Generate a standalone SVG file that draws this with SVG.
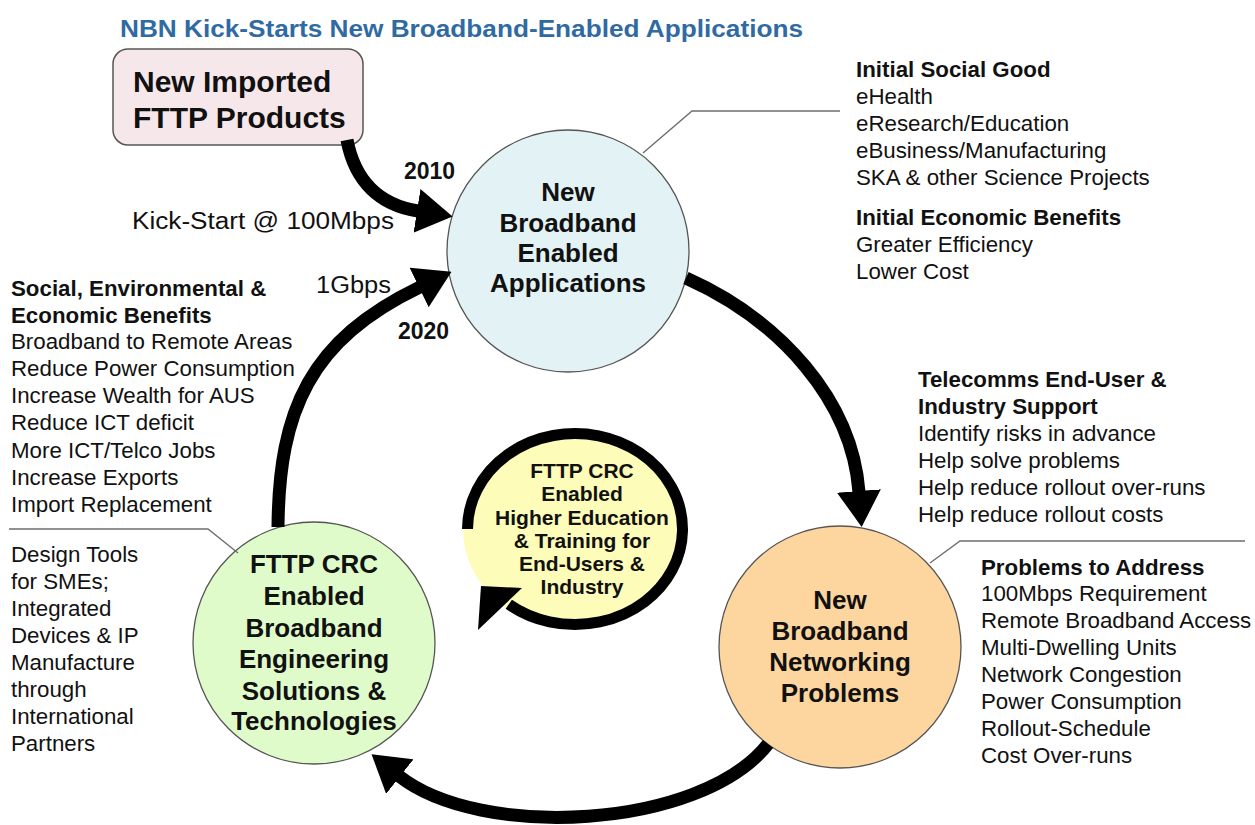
<svg xmlns="http://www.w3.org/2000/svg" width="1255" height="825" viewBox="0 0 1255 825">
<defs>
<style>
text{font-family:"Liberation Sans",Arial,Helvetica,sans-serif;fill:#111}
.title{font-size:23px;font-weight:bold;fill:#2f6aa3}
.boxt{font-size:30px;font-weight:bold}
.ct{font-size:26px;font-weight:bold;text-anchor:middle}
.st{font-size:21px;font-weight:bold;text-anchor:middle}
.lb{font-size:23px}
.yr{font-size:23px;font-weight:bold}
.li{font-size:22.3px}
.lh{font-size:22.3px;font-weight:bold}
.node{stroke:#555;stroke-width:1.3}
.conn{fill:none;stroke:#000;stroke-width:13}
.call{fill:none;stroke:#6e6e6e;stroke-width:1.4}
</style>
<marker id="ah" markerUnits="userSpaceOnUse" markerWidth="36" markerHeight="44" viewBox="0 0 36 44" refX="1" refY="22" orient="auto">
<path d="M0,0 L36,22 L0,44 Z" fill="#000"/>
</marker>
</defs>
<rect width="1255" height="825" fill="#fff"/>
<text class="title" x="120" y="37" textLength="683" lengthAdjust="spacingAndGlyphs">NBN Kick-Starts New Broadband-Enabled Applications</text>

<g id="node-imported">
<rect x="113" y="49" width="250" height="96" rx="15" fill="#f6e8ea" stroke="#555" stroke-width="1.5"/>
<text class="boxt" x="133" y="92">New Imported</text>
<text class="boxt" x="133" y="128">FTTP Products</text>
</g>

<g id="node-applications">
<circle class="node" cx="568" cy="251" r="121" fill="#e3f2f4"/>
<text class="ct" x="568" y="201">New</text>
<text class="ct" x="568" y="232">Broadband</text>
<text class="ct" x="568" y="262">Enabled</text>
<text class="ct" x="568" y="292">Applications</text>
</g>

<g id="node-problems">
<circle class="node" cx="840" cy="647" r="121" fill="#fdd69f"/>
<text class="ct" x="840" y="609">New</text>
<text class="ct" x="840" y="640">Broadband</text>
<text class="ct" x="840" y="671">Networking</text>
<text class="ct" x="840" y="702">Problems</text>
</g>

<g id="node-engineering">
<circle class="node" cx="314" cy="643" r="121" fill="#e0fbca"/>
<text class="ct" x="314" y="573">FTTP CRC</text>
<text class="ct" x="314" y="605">Enabled</text>
<text class="ct" x="314" y="637">Broadband</text>
<text class="ct" x="314" y="668">Engineering</text>
<text class="ct" x="314" y="700">Solutions &amp;</text>
<text class="ct" x="314" y="730">Technologies</text>
</g>

<g id="node-education">
<ellipse cx="575" cy="529" rx="112" ry="100" fill="#fdfcb8"/>
<path d="M467.5,529 A107.5,95.5 0 1 1 508.8,604.3" fill="none" stroke="#000" stroke-width="11"/>
<polygon points="481,586 522,588 478,630" fill="#000"/>
<text class="st" x="582" y="478">FTTP CRC</text>
<text class="st" x="582" y="501">Enabled</text>
<text class="st" x="582" y="525">Higher Education</text>
<text class="st" x="582" y="548">&amp; Training for</text>
<text class="st" x="582" y="571">End-Users &amp;</text>
<text class="st" x="582" y="594">Industry</text>
</g>

<g id="connectors">
<path class="conn" d="M347,140 C355,182 380,205 418,211" marker-end="url(#ah)"/>
<path class="conn" d="M278,527 C279,410 310,340 420,287" marker-end="url(#ah)"/>
<path class="conn" d="M686,278 C780,320 852,400 859,492" marker-end="url(#ah)"/>
<path class="conn" d="M768,744 C700,830 480,840 399,776" marker-end="url(#ah)"/>
</g>

<g id="arrow-labels">
<text class="yr" x="404" y="179">2010</text>
<text class="lb" x="132" y="229" textLength="262" lengthAdjust="spacingAndGlyphs">Kick-Start @ 100Mbps</text>
<text class="lb" x="316" y="293" textLength="75" lengthAdjust="spacingAndGlyphs">1Gbps</text>
<text class="yr" x="398" y="339">2020</text>
</g>

<g id="callout-lines">
<polyline class="call" points="643,153 692,111 840,111"/>
<polyline class="call" points="930,563 960,541 1245,541"/>
<polyline class="call" points="9,529 208,529 238,553"/>
</g>

<g id="text-social-good">
<text class="lh" x="856" y="77">Initial Social Good</text>
<text class="li" x="856" y="104">eHealth</text>
<text class="li" x="856" y="131">eResearch/Education</text>
<text class="li" x="856" y="158">eBusiness/Manufacturing</text>
<text class="li" x="856" y="185">SKA &amp; other Science Projects</text>
<text class="lh" x="856" y="225">Initial Economic Benefits</text>
<text class="li" x="856" y="252">Greater Efficiency</text>
<text class="li" x="856" y="279">Lower Cost</text>
</g>

<g id="text-telecomms">
<text class="lh" x="918" y="387">Telecomms End-User &amp;</text>
<text class="lh" x="918" y="414">Industry Support</text>
<text class="li" x="918" y="441">Identify risks in advance</text>
<text class="li" x="918" y="468">Help solve problems</text>
<text class="li" x="918" y="495">Help reduce rollout over-runs</text>
<text class="li" x="918" y="522">Help reduce rollout costs</text>
</g>

<g id="text-problems">
<text class="lh" x="981" y="575">Problems to Address</text>
<text class="li" x="981" y="601">100Mbps Requirement</text>
<text class="li" x="981" y="628">Remote Broadband Access</text>
<text class="li" x="981" y="655">Multi-Dwelling Units</text>
<text class="li" x="981" y="682">Network Congestion</text>
<text class="li" x="981" y="709">Power Consumption</text>
<text class="li" x="981" y="736">Rollout-Schedule</text>
<text class="li" x="981" y="763">Cost Over-runs</text>
</g>

<g id="text-benefits">
<text class="lh" x="11" y="296">Social, Environmental &amp;</text>
<text class="lh" x="11" y="323">Economic Benefits</text>
<text class="li" x="11" y="349">Broadband to Remote Areas</text>
<text class="li" x="11" y="376">Reduce Power Consumption</text>
<text class="li" x="11" y="403">Increase Wealth for AUS</text>
<text class="li" x="11" y="430">Reduce ICT deficit</text>
<text class="li" x="11" y="458">More ICT/Telco Jobs</text>
<text class="li" x="11" y="485">Increase Exports</text>
<text class="li" x="11" y="512">Import Replacement</text>
</g>

<g id="text-design">
<text class="li" x="11" y="562">Design Tools</text>
<text class="li" x="11" y="589">for SMEs;</text>
<text class="li" x="11" y="616">Integrated</text>
<text class="li" x="11" y="643">Devices &amp; IP</text>
<text class="li" x="11" y="670">Manufacture</text>
<text class="li" x="11" y="697">through</text>
<text class="li" x="11" y="724">International</text>
<text class="li" x="11" y="751">Partners</text>
</g>
</svg>
